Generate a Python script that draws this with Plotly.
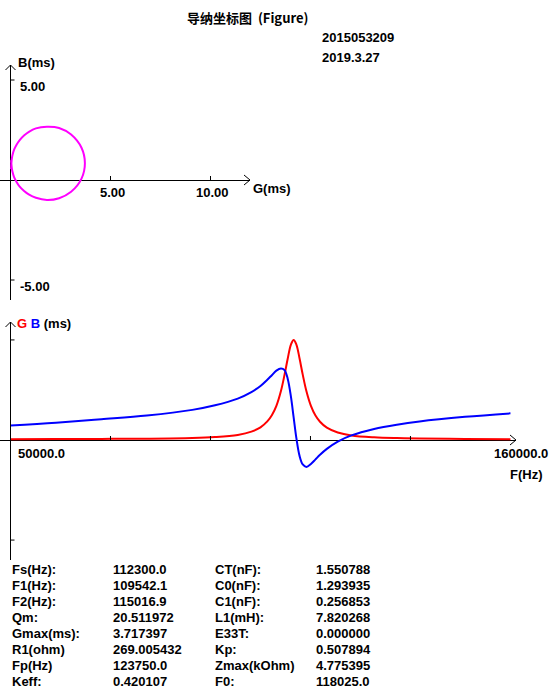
import plotly.graph_objects as go

freq_hz = [50000, 60000, 70000, 80000, 90000, 95000, 100000, 103000, 105000, 106500, 107500,
           108500, 109500, 110300, 111000, 111700, 112300, 112900, 113600, 114300, 115100,
           116100, 117100, 118100, 119600, 122000, 125000, 130000, 135000, 140000, 150000, 160000]
g_ms = [0.03, 0.035, 0.04, 0.05, 0.075, 0.11, 0.19, 0.31, 0.47, 0.69, 0.92,
        1.27, 1.82, 2.43, 3.03, 3.55, 3.72, 3.55, 3.03, 2.43, 1.82,
        1.27, 0.91, 0.68, 0.46, 0.28, 0.17, 0.10, 0.07, 0.055, 0.04, 0.03]
b_ms = [0.54, 0.64, 0.77, 0.91, 1.12, 1.29, 1.54, 1.78, 2.01, 2.24, 2.41,
        2.58, 2.66, 2.60, 2.27, 1.61, 0.84, 0.07, -0.59, -0.91, -1.00,
        -0.89, -0.72, -0.55, -0.33, -0.06, 0.17, 0.41, 0.57, 0.69, 0.86, 0.99]

g_ticks = [5, 10]
g_tick_labels = ["5.00", "10.00"]
b_ticks = [5, -5]
b_tick_labels = ["5.00", "-5.00"]

param_labels_1 = ["Fs(Hz):", "F1(Hz):", "F2(Hz):", "Qm:", "Gmax(ms):", "R1(ohm)", "Fp(Hz)", "Keff:"]
param_values_1 = ["112300.0", "109542.1", "115016.9", "20.511972", "3.717397", "269.005432", "123750.0", "0.420107"]
param_labels_2 = ["CT(nF):", "C0(nF):", "C1(nF):", "L1(mH):", "E33T:", "Kp:", "Zmax(kOhm)", "F0:"]
param_values_2 = ["1.550788", "1.293935", "0.256853", "7.820268", "0.000000", "0.507894", "4.775395", "118025.0"]

W, H = 550, 700
FONT = "Liberation Sans"
FS = 13
def px(x): return x / W
def py(y): return 1 - y / H

fig = go.Figure()
fig.add_trace(go.Scatter(x=g_ms, y=b_ms, mode="lines", line=dict(color="#ff00ff", width=2, shape="spline"),
                         xaxis="x", yaxis="y", showlegend=False))
fig.add_trace(go.Scatter(x=freq_hz, y=g_ms, mode="lines", line=dict(color="#ff0000", width=2, shape="spline"),
                         xaxis="x2", yaxis="y2", showlegend=False))
fig.add_trace(go.Scatter(x=freq_hz, y=b_ms, mode="lines", line=dict(color="#0000ff", width=2, shape="spline"),
                         xaxis="x2", yaxis="y2", showlegend=False))

ax_common = dict(showgrid=False, showticklabels=False, ticks="", zeroline=True,
                 zerolinecolor="black", zerolinewidth=1, showline=False, fixedrange=True)
X0 = 10.5
SX2 = 4.545  # px per kHz
fig.update_layout(
    width=W, height=H, margin=dict(l=0, r=0, t=0, b=0),
    paper_bgcolor="white", plot_bgcolor="white",
    xaxis=dict(domain=[0, px(250)], range=[-X0/20, (250 - X0)/20], **ax_common),
    yaxis=dict(domain=[py(300), py(65)], range=[-6.0, 5.75], **ax_common),
    xaxis2=dict(domain=[0, px(516)], range=[50000 - X0/SX2*1000, 50000 + (516 - X0)/SX2*1000], **ax_common),
    yaxis2=dict(domain=[py(560), py(322)], range=[-120/26.9, 118/26.9], **ax_common),
)

shapes = []
def line(x0, y0, x1, y1):
    shapes.append(dict(type="line", x0=px(x0), y0=py(y0), x1=px(x1), y1=py(y1), xref="paper", yref="paper",
                       line=dict(color="black", width=1)))
for (a, b, c, d) in [(244, 175, 250, 180), (244, 185, 250, 180), (5.5, 70, X0, 65), (15.5, 70, X0, 65),
                     (510, 435, 516, 440), (510, 445, 516, 440), (5.5, 327, X0, 322), (15.5, 327, X0, 322),
                     (X0, 322, X0, 560)]:
    line(a, b, c, d)
annotations = []
def text(x, y, s, anchor="left", size=FS, family=FONT):
    annotations.append(dict(x=px(x), y=py(y), xref="paper", yref="paper", text=s, showarrow=False,
                            xanchor=anchor, yanchor="middle", font=dict(family=family, size=size, color="black")))
for v, lab in zip(g_ticks, g_tick_labels):
    shapes.append(dict(type="line", x0=v, x1=v, xref="x", y0=py(180), y1=py(176), yref="paper",
                       line=dict(color="black", width=1)))
    annotations.append(dict(x=v, xref="x", y=py(193), yref="paper", text="<b>%s</b>" % lab, showarrow=False,
                            xanchor="center", yanchor="middle", xshift=2, font=dict(family=FONT, size=FS, color="black")))
for v, lab in zip(b_ticks, b_tick_labels):
    shapes.append(dict(type="line", y0=v, y1=v, yref="y", x0=px(X0), x1=px(14.5), xref="paper",
                       line=dict(color="black", width=1)))
    annotations.append(dict(y=v, yref="y", x=px(18), xref="paper", text="<b>%s</b>" % lab, showarrow=False,
                            xanchor="left", yanchor="top", yshift=3, font=dict(family=FONT, size=FS, color="black")))
f_lo, f_hi = freq_hz[0], freq_hz[-1]
for i in range(1, 5):
    f = f_lo + i * 22000
    shapes.append(dict(type="line", x0=f, x1=f, xref="x2", y0=py(440), y1=py(436), yref="paper",
                       line=dict(color="black", width=1)))
gmax = max(g_ms)
for v in [gmax, -gmax]:
    shapes.append(dict(type="line", y0=v, y1=v, yref="y2", x0=px(X0), x1=px(14.5), xref="paper",
                       line=dict(color="black", width=1)))

text(16, 63, "<b>B(ms)</b>")
text(251, 188, "<b>G(ms)</b>")
text(247, 18, "<b>导纳坐标图  (Figure)</b>", anchor="center", size=13, family="Noto Sans CJK SC")
text(320, 38, "<b>2015053209</b>")
text(320, 58, "<b>2019.3.27</b>")
text(16, 453, "<b>%.1f</b>" % f_lo)
text(550, 453, "<b>%.1f</b>" % f_hi, anchor="right")
text(545, 474, "<b>F(Hz)</b>", anchor="right")
text(15, 323, "<b><span style='color:#ff0000'>G</span> <span style='color:#0000ff'>B</span> (ms)</b>")

for i in range(8):
    y = 569 + 16 * i
    text(10, y, "<b>%s</b>" % param_labels_1[i])
    text(111, y, "<b>%s</b>" % param_values_1[i])
    text(213, y, "<b>%s</b>" % param_labels_2[i])
    text(314, y, "<b>%s</b>" % param_values_2[i])

fig.update_layout(shapes=shapes, annotations=annotations)
fig.write_html("out.html", config={"displayModeBar": False},
               post_script="document.body.style.margin='0';document.body.style.overflow='hidden';")
